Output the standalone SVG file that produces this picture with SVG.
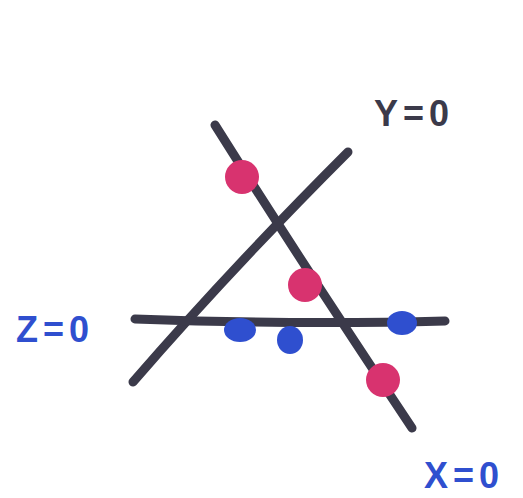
<svg xmlns="http://www.w3.org/2000/svg" width="523" height="498" viewBox="0 0 523 498">
<style>
.ln{stroke:#3b3a4a;stroke-width:9;stroke-linecap:round;fill:none}
.pk{fill:#d8336f}
.bl{fill:#2f4fcf}
.lab{font-family:"Liberation Sans",Arial,sans-serif;font-weight:bold;font-size:36px;letter-spacing:5px}
</style>
<rect width="523" height="498" fill="#ffffff"/>
<g id="connectors">
<path class="ln" d="M215,125 Q300,260 412,428"/>
<path class="ln" d="M348,152 Q230,270 133,382"/>
<path class="ln" d="M135,319 Q300,325 445,321"/>
</g>
<g id="pink-dots">
<circle class="pk" cx="242" cy="177" r="17"/>
<circle class="pk" cx="305" cy="285" r="17"/>
<circle class="pk" cx="383" cy="380" r="17"/>
</g>
<g id="blue-dots">
<ellipse class="bl" cx="240" cy="330" rx="16" ry="12"/>
<ellipse class="bl" cx="290" cy="340" rx="13" ry="14"/>
<ellipse class="bl" cx="402" cy="323" rx="15" ry="12"/>
</g>
<g id="label-y">
<text class="lab" x="374" y="126" fill="#3b3a4a">Y=0</text>
</g>
<g id="label-z">
<text class="lab" x="16" y="342" fill="#2f4fcf">Z=0</text>
</g>
<g id="label-x">
<text class="lab" x="424" y="488" fill="#2f4fcf">X=0</text>
</g>
</svg>
